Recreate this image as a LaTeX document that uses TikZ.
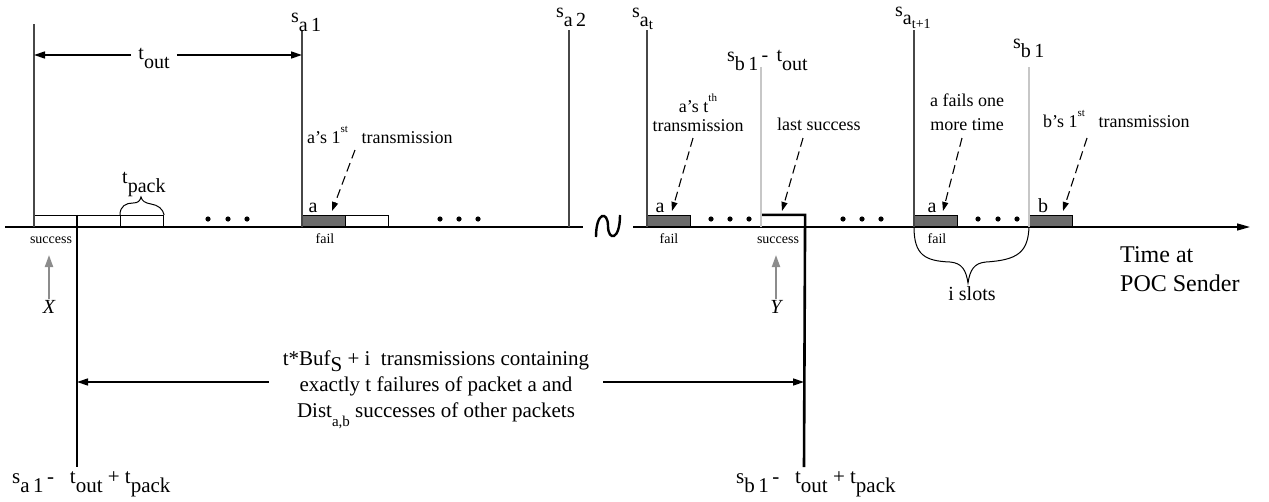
\documentclass[tikz,border=0pt]{standalone}
\usepackage{fontspec}
\setmainfont{Liberation Serif}
\usetikzlibrary{arrows.meta}

\newcommand{\lo}[1]{\raisebox{-0.45em}{#1}}
\newcommand{\hi}[1]{\raisebox{0.6em}{\fontsize{11}{11}\selectfont #1}}

\tikzset{
  evline/.style={draw=black!72, line width=2pt},
  lateline/.style={draw=black!22, line width=2pt},
  cutline/.style={draw=black, line width=2.6pt},
  axisline/.style={draw=black, line width=1.4pt},
  slot/.style={draw=black, line width=1.1pt, minimum width=43pt, minimum height=11pt, inner sep=0pt, anchor=south west},
  failslot/.style={slot, fill=black!58},
  okslot/.style={slot, fill=white},
  evlabel/.style={font=\fontsize{20}{22}\selectfont, inner sep=0pt},
  annot/.style={font=\fontsize{18}{19}\selectfont, inner sep=0pt, align=center},
  slotstate/.style={font=\fontsize{14}{16}\selectfont, inner sep=0pt},
  pointer/.style={-{Triangle[length=9pt,width=6pt]}, dash pattern=on 9pt off 5pt, line width=1.1pt},
  probe/.style={-{Triangle[length=12pt,width=8pt]}, draw=black!45, line width=2pt},
  spanarrow/.style={-{Triangle[length=11pt,width=7pt]}, line width=1.4pt},
  bracepath/.style={line width=1pt},
}

\begin{document}
\begin{tikzpicture}[x=1pt,y=-1pt]
  \useasboundingbox (0,0) rectangle (1269,501);

  \coordinate (axL) at (5,227);
  \coordinate (axM) at (583,227);
  \coordinate (axN) at (633,227);
  \coordinate (axR) at (1250,227);
  \draw[axisline] (axL) -- (axM);
  \draw[axisline, -{Triangle[length=13pt,width=7pt]}] (axN) -- (axR);
  \draw[line width=2.4pt] (596,237) .. controls (596,211) and (608,211) .. (608,226)
    .. controls (608,241) and (620,241) .. (620,215);

  \node[okslot] (ok1) at (34,227) {};
  \node[okslot] (ok2) at (77,227) {};
  \node[okslot] (ok3) at (120,227) {};
  \node[failslot] (fa1) at (302,227) {};
  \node[okslot] (ok4) at (345,227) {};
  \node[failslot] (fat) at (647,227) {};
  \node[okslot] (okb) at (761,227) {};
  \node[failslot] (fat1) at (914,227) {};
  \node[failslot] (fb1) at (1029,227) {};

  \coordinate (cut1) at (77,467);
  \coordinate (cut2) at (804,467);
  \draw[cutline] (ok2.north west) -- (cut1);
  \draw[cutline] (okb.north west) -- (okb.north east) -- (cut2);

  \coordinate (lft) at (34,24);
  \coordinate (sa1) at (302,30);
  \coordinate (sa2) at (569,30);
  \coordinate (sat) at (647,30);
  \coordinate (sbt) at (761,67);
  \coordinate (sat1) at (914,30);
  \coordinate (sb1) at (1029,67);
  \draw[evline] (lft) -- (ok1.south west);
  \draw[evline] (sa1) -- (fa1.south west);
  \draw[evline] (sa2) -- (sa2 |- axL);
  \draw[evline] (sat) -- (fat.south west);
  \draw[lateline] (sbt) -- (okb.south west);
  \draw[evline] (sat1) -- (fat1.south west);
  \draw[lateline] (sb1) -- (fb1.south west);

  \foreach \x in {208,228,247,440,459,478,711,730,749,843,862,881,978,998,1017}
    \fill (\x,219) circle (2.6pt);

  \node[evlabel, anchor=base west] (la1) at (291,22) {s\lo{a\,1}};
  \node[evlabel, anchor=base west] (la2) at (556,17) {s\lo{a\,2}};
  \node[evlabel, anchor=base west] (lat) at (632,17) {s\lo{a\raisebox{-0.15em}{\fontsize{15}{15}\selectfont t}}};
  \node[evlabel, anchor=base west] (lat1) at (895,16) {s\raisebox{-0.4em}{a\raisebox{-0.2em}{\fontsize{14}{14}\selectfont t+1}}};
  \node[evlabel, anchor=base west] (lbt) at (727,61) {s\lo{b\,1}\,-\ \,t\lo{out}};
  \node[evlabel, anchor=base west] (lb1) at (1013,48) {s\lo{b\,1}};

  \coordinate (toutarw) at (154,55);
  \node[evlabel, inner xsep=7pt] (tout) at (154,58) {t\lo{out}};
  \draw[spanarrow] (tout.west |- toutarw) -- (lft |- toutarw);
  \draw[spanarrow] (tout.east |- toutarw) -- (sa1 |- toutarw);

  \node[evlabel, anchor=base west] (tp) at (122,183) {t\lo{pack}};
  \draw[bracepath] (ok3.north west) .. controls (120,206) and (126,203) .. (133,203)
    .. controls (138,203) and (140,201) .. (141,197)
    .. controls (142,201) and (145,203) .. (151,204)
    .. controls (158,205) and (163,209) .. (ok3.north east);

  \node[evlabel, anchor=base] (ta1) at (313,212) {a};
  \node[evlabel, anchor=base] (tat) at (660,212) {a};
  \node[evlabel, anchor=base] (tat1) at (932,212) {a};
  \node[evlabel, anchor=base] (tb1) at (1043,212) {b};

  \node[slotstate, anchor=base] (st1) at (51,243) {success};
  \node[slotstate, anchor=base] (st2) at (325,243) {fail};
  \node[slotstate, anchor=base] (st3) at (669,243) {fail};
  \node[slotstate, anchor=base] (st4) at (778,243) {success};
  \node[slotstate, anchor=base] (st5) at (937,243) {fail};

  \node[annot, anchor=base west] (n1) at (307,143) {a’s 1\hi{st}\ \ \ transmission};
  \node[annot, anchor=south] (n2) at (698,132) {a’s t\hi{th}\\transmission};
  \node[annot, anchor=base west] (n3) at (777,130) {last success};
  \node[annot, font=\fontsize{18}{24}\selectfont, anchor=south] (n4) at (967,131) {a fails one\\more time};
  \node[annot, anchor=base west] (n5) at (1043,127) {b’s 1\hi{st}\ \ \ transmission};

  \coordinate (p1s) at (355,150); \coordinate (p1e) at (332,211);
  \coordinate (p2s) at (693,138); \coordinate (p2e) at (672,211);
  \coordinate (p3s) at (803,138); \coordinate (p3e) at (782,211);
  \coordinate (p4s) at (962,138); \coordinate (p4e) at (943,211);
  \coordinate (p5s) at (1087,138); \coordinate (p5e) at (1063,211);
  \draw[pointer] (p1s) -- (p1e);
  \draw[pointer] (p2s) -- (p2e);
  \draw[pointer] (p3s) -- (p3e);
  \draw[pointer] (p4s) -- (p4e);
  \draw[pointer] (p5s) -- (p5e);

  \node[evlabel, font=\fontsize{20}{22}\selectfont\itshape, anchor=north, inner sep=1pt] (xq) at (49,299) {X};
  \node[evlabel, font=\fontsize{20}{22}\selectfont\itshape, anchor=north, inner sep=1pt] (yq) at (776,299) {Y};
  \coordinate (xtip) at (49,255);
  \coordinate (ytip) at (776,255);
  \draw[probe] (xq.north) -- (xtip);
  \draw[probe] (yq.north) -- (ytip);

  \draw[bracepath] (fat1.south west) .. controls (914,255) and (925,261) .. (950,262)
    .. controls (962,263) and (966,270) .. (968,283)
    .. controls (970,270) and (974,263) .. (986,262)
    .. controls (1018,260) and (1028,252) .. (fb1.south west);
  \node[evlabel, anchor=base] (isl) at (972,300) {i slots};

  \node[font=\fontsize{24}{29}\selectfont, align=left, anchor=north west, inner sep=0pt] (poc) at (1120,246) {Time at\\POC Sender};

  \node[font=\fontsize{21}{26}\selectfont, align=center, inner sep=0pt, inner xsep=14pt] (big) at (436,390)
    {t*Buf\raisebox{-0.3em}{S} + i\ \ transmissions containing\\exactly t failures of packet a and\\Dist\lo{\fontsize{15}{15}\selectfont a,b} successes of other packets};
  \coordinate (bigarw) at (436,382);
  \draw[spanarrow] (big.west |- bigarw) -- (cut1 |- bigarw);
  \draw[spanarrow] (big.east |- bigarw) -- (cut2 |- bigarw);

  \node[evlabel, font=\fontsize{21}{22}\selectfont, anchor=base west] (lc1) at (12,483) {s\lo{a\,1}\,-\ \ \ t\lo{out} + t\lo{pack}};
  \node[evlabel, font=\fontsize{21}{22}\selectfont, anchor=base west] (lc2) at (736,483) {s\lo{b\,1}\,-\ \ \ t\lo{out} + t\lo{pack}};
\end{tikzpicture}
\end{document}
